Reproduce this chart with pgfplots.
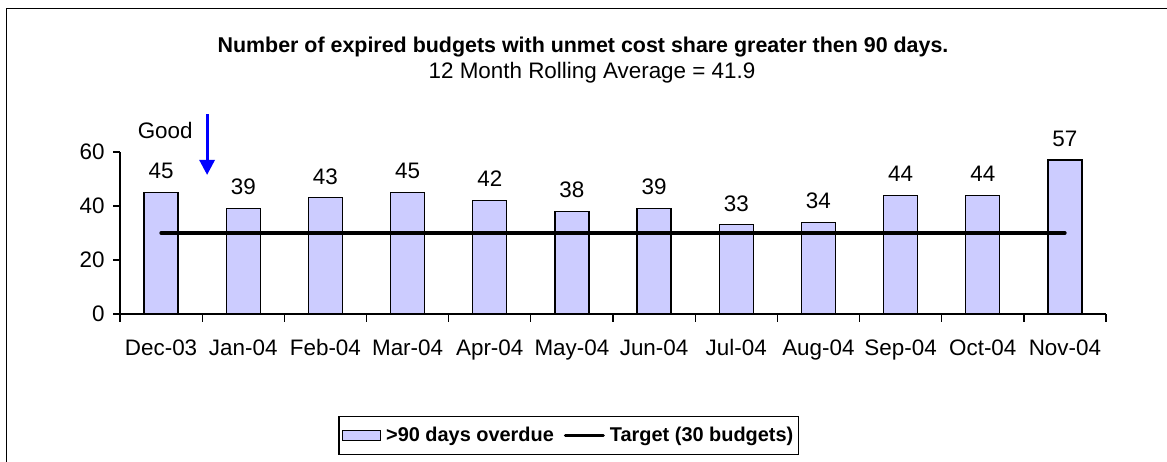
\documentclass[border=0pt]{standalone}
\usepackage{pgfplots}
\pgfplotsset{compat=1.18}
\usetikzlibrary{arrows.meta}
\usepackage{fontspec}
\setmainfont{Liberation Sans}
\definecolor{barfill}{RGB}{204,204,255}
\begin{document}
\begin{tikzpicture}[x=1bp,y=1bp]
\useasboundingbox (0,0) rectangle (1167,462);
\draw[line width=1bp] (6,-10) -- (6,453) -- (1180,453);
\node[font=\fontsize{21.5}{24}\selectfont\bfseries] at (583,415) {Number of expired budgets with unmet cost share greater then 90 days.};
\node[font=\fontsize{22.5}{25}\selectfont] at (592,389) {12 Month Rolling Average = 41.9};
\begin{axis}[
  at={(120bp,148bp)}, anchor=south west,
  scale only axis, width=986bp, height=162bp,
  xmin=-0.5, xmax=11.5, ymin=0, ymax=60,
  ytick={0,20,40,60},
  xtick={0,...,11},
  xticklabels={Dec-03,Jan-04,Feb-04,Mar-04,Apr-04,May-04,Jun-04,Jul-04,Aug-04,Sep-04,Oct-04,Nov-04},
  minor xtick={-0.5,0.5,...,11.5},
  major x tick style={draw=none},
  axis lines*=left,
  axis line style={line width=1.3bp},
  tick style={line width=1.3bp, black},
  tick align=outside,
  major tick length=7bp, minor tick length=8bp,
  ticklabel style={font=\fontsize{22.5}{25}\selectfont},
  xticklabel style={text height=16bp, text depth=0bp, yshift=-15bp},
  yticklabel style={xshift=-5bp},
  /pgf/number format/assume math mode=true,
  clip=false,
  legend style={at={(0.455,-0.75)}, anchor=center, legend columns=2, draw=black, line width=1.2bp,
    font=\fontsize{20}{23}\selectfont\bfseries, inner xsep=3bp, inner ysep=9bp,
    /tikz/every odd column/.append style={column sep=3bp},
    /tikz/every even column/.append style={column sep=8bp}},
]
\addplot[ybar, bar width=34bp, fill=barfill, draw=black, line width=1.2bp,
  nodes near coords,
  nodes near coords style={font=\fontsize{22.5}{25}\selectfont, anchor=south, inner sep=0pt, yshift=13bp, black},
  legend image code/.code={\draw[fill=barfill, draw=black, line width=1.2bp] (0bp,-5bp) rectangle (38bp,5bp);}]
  coordinates {(0,45) (1,39) (2,43) (3,45) (4,42) (5,38) (6,39) (7,33) (8,34) (9,44) (10,44) (11,57)};
\addlegendentry{>90 days overdue}
\addplot[black, line width=3.5bp, line cap=round,
  legend image code/.code={\draw[black, line width=3bp] (0bp,0bp) -- (38bp,0bp);}]
  coordinates {(0,30) (11,30)};
\addlegendentry{Target (30 budgets)}
\node[font=\fontsize{22.5}{25}\selectfont] at (axis cs:0.05,68.1) {Good};
\draw[blue, line width=3bp, -{Triangle[width=15bp,length=15bp]}] (axis cs:0.56,74) -- (axis cs:0.56,51.5);
\end{axis}
\end{tikzpicture}
\end{document}
